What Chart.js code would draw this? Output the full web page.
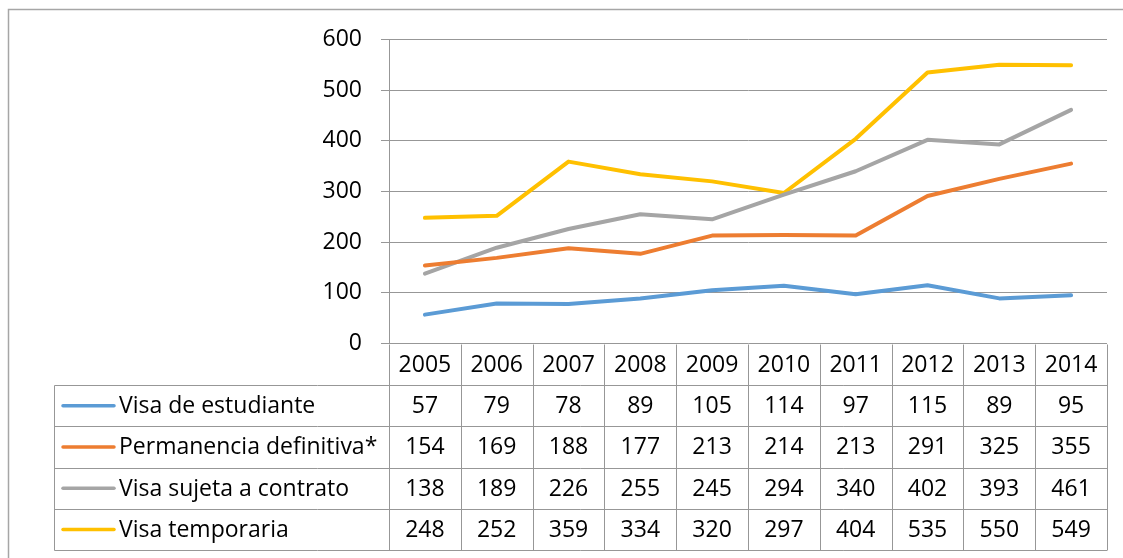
<!DOCTYPE html>
<html>
<head>
<meta charset="utf-8">
<script src="https://cdn.jsdelivr.net/npm/chart.js@4.4.1/dist/chart.umd.min.js"></script>
<style>
  html, body { margin: 0; padding: 0; background: #fff; }
  #wrap { position: relative; width: 1123px; height: 558px; }
</style>
</head>
<body>
<div id="wrap"><canvas id="c" width="1123" height="558"></canvas></div>
<script>
// Years on the category axis
const years = ['2005', '2006', '2007', '2008', '2009', '2010', '2011', '2012', '2013', '2014'];

// Series values per year
const visaEstudiante = [57, 79, 78, 89, 105, 114, 97, 115, 89, 95];
const permanenciaDefinitiva = [154, 169, 188, 177, 213, 214, 213, 291, 325, 355];
const visaSujetaContrato = [138, 189, 226, 255, 245, 294, 340, 402, 393, 461];
const visaTemporaria = [248, 252, 359, 334, 320, 297, 404, 535, 550, 549];

// Series names
const seriesNames = ['Visa de estudiante', 'Permanencia definitiva*', 'Visa sujeta a contrato', 'Visa temporaria'];

// Y axis ticks
const yTicks = [0, 100, 200, 300, 400, 500, 600];

const colors = ['#5B9BD5', '#ED7D31', '#A5A5A5', '#FFC000'];
const seriesValues = [visaEstudiante, permanenciaDefinitiva, visaSujetaContrato, visaTemporaria];

const FONT = '"Open Sans", "Liberation Sans", sans-serif';
const FONT_SIZE = 23;
const GRID = '#979797';

// Draws the outer frame and the data table beneath the plot
const dataTablePlugin = {
  id: 'dataTable',
  afterDraw(chart) {
    const ctx = chart.ctx;
    const xs = chart.scales.x;
    const area = chart.chartArea;
    const colW = xs.getPixelForValue(1) - xs.getPixelForValue(0);
    const left = area.left, right = area.right;
    const top = area.bottom;
    const headerH = 41.5;
    const rowH = 41.3;
    const tableLeft = 54.5;
    const bottom = top + headerH + rowH * seriesNames.length;

    ctx.save();
    // outer frame
    ctx.strokeStyle = '#a6a6a6';
    ctx.lineWidth = 1.5;
    ctx.beginPath();
    ctx.moveTo(8.5, 600);
    ctx.lineTo(8.5, 9.5);
    ctx.lineTo(1200, 9.5);
    ctx.stroke();

    // table grid
    ctx.strokeStyle = GRID;
    ctx.lineWidth = 1;
    ctx.beginPath();
    for (let r = 0; r <= seriesNames.length; r++) {
      const y = Math.round(top + headerH + r * rowH) + 0.5;
      ctx.moveTo(tableLeft, y);
      ctx.lineTo(right, y);
    }
    ctx.moveTo(tableLeft, Math.round(top + headerH) + 0.5);
    ctx.lineTo(tableLeft, Math.round(bottom) + 0.5);
    for (let i = 0; i <= years.length; i++) {
      const x = Math.round(left + i * colW) + 0.5;
      ctx.moveTo(x, Math.round(top) + 0.5);
      ctx.lineTo(x, Math.round(bottom) + 0.5);
    }
    ctx.stroke();

    // header years
    ctx.fillStyle = '#000';
    ctx.font = FONT_SIZE + 'px ' + FONT;
    ctx.textAlign = 'center';
    ctx.textBaseline = 'middle';
    years.forEach((yr, i) => {
      ctx.fillText(yr, xs.getPixelForValue(i), top + headerH / 2 + 1);
    });

    // rows: legend key, name, values
    seriesNames.forEach((name, r) => {
      const cy = top + headerH + r * rowH + rowH / 2;
      ctx.strokeStyle = colors[r];
      ctx.lineWidth = 3.5;
      ctx.lineCap = 'round';
      ctx.beginPath();
      ctx.moveTo(63, cy);
      ctx.lineTo(114, cy);
      ctx.stroke();

      ctx.fillStyle = '#000';
      ctx.textAlign = 'left';
      ctx.fillText(name, 119, cy + 1);
      ctx.textAlign = 'center';
      seriesValues[r].forEach((v, i) => {
        ctx.fillText(String(v), xs.getPixelForValue(i), cy + 1);
      });
    });
    ctx.restore();
  }
};

new Chart(document.getElementById('c'), {
  type: 'line',
  data: {
    labels: years,
    datasets: seriesNames.map((name, i) => ({
      label: name,
      data: seriesValues[i],
      borderColor: colors[i],
      backgroundColor: colors[i],
      borderWidth: 4,
      pointRadius: 0,
      tension: 0,
      borderCapStyle: 'round',
      borderJoinStyle: 'round'
    }))
  },
  options: {
    responsive: false,
    animation: false,
    layout: { padding: { left: 0, top: 39.5, right: 16, bottom: 214.5 } },
    plugins: { legend: { display: false }, tooltip: { enabled: false } },
    scales: {
      x: {
        type: 'category',
        offset: true,
        display: false
      },
      y: {
        min: 0,
        max: 600,
        afterFit(scale) { scale.width = 389; },
        afterBuildTicks(scale) { scale.ticks = yTicks.map(v => ({ value: v })); },
        border: { display: true, color: GRID, width: 1 },
        grid: { color: GRID, lineWidth: 1, tickLength: 8, drawTicks: true },
        ticks: {
          color: '#000',
          padding: 19,
          font: { family: FONT, size: FONT_SIZE }
        }
      }
    }
  },
  plugins: [dataTablePlugin]
});
</script>
</body>
</html>
